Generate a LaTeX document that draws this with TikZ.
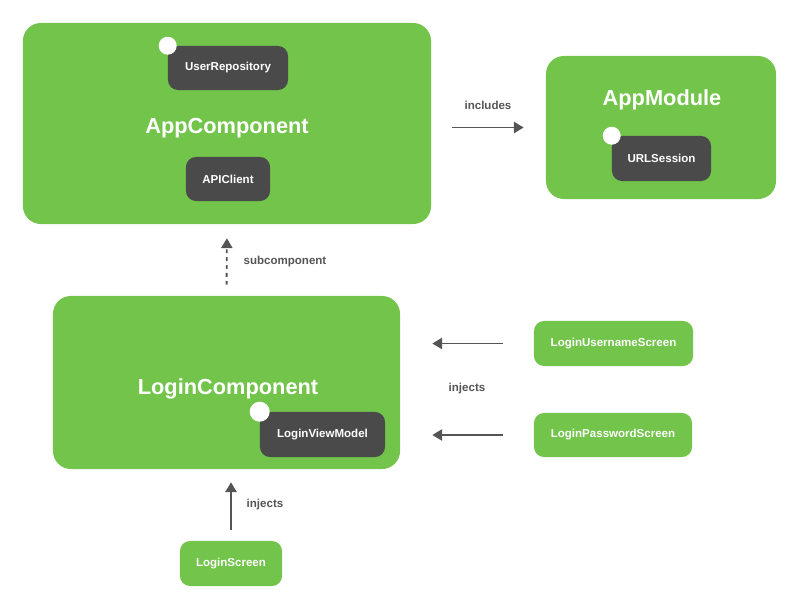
\documentclass[tikz,border=0pt]{standalone}
\usepackage{fontspec}
\setmainfont{Liberation Sans}
\usetikzlibrary{arrows.meta}
\definecolor{compgreen}{RGB}{114,196,74}
\definecolor{depgray}{RGB}{74,74,74}
\definecolor{linegray}{RGB}{85,85,85}

\begin{document}
\begin{tikzpicture}[x=0.025cm,y=-0.025cm,>={Triangle[length=7pt,width=8pt]},
    comp/.style={fill=compgreen, rounded corners=0.45cm, inner sep=0pt},
    dep/.style={fill=depgray, rounded corners=0.25cm, inner sep=0pt, text=white,
      font=\fontsize{8.2}{10}\selectfont\bfseries},
    screen/.style={fill=compgreen, rounded corners=0.25cm, inner sep=0pt, text=white,
      font=\fontsize{8.2}{10}\selectfont\bfseries},
    title/.style={text=white, font=\fontsize{15.5}{18}\selectfont\bfseries},
    lbl/.style={text=linegray, font=\fontsize{8.2}{10}\selectfont\bfseries},
    dot/.style={circle, fill=white, inner sep=0pt, minimum size=0.45cm},
    arr/.style={->, line width=1.4pt, draw=linegray}]
    \useasboundingbox (0,0) rectangle (800,609);

    % AppComponent
    \node[comp, minimum width=10.2cm, minimum height=5.025cm] (appc) at (227,123.5) {};
    \node[title] (appctitle) at (227,128) {AppComponent};
    \node[dep, minimum width=3cm, minimum height=1.1cm] (userrepo) at (228,68) {UserRepository};
    \node[dot] (userrepodot) at (userrepo.north west) {};
    \node[dep, minimum width=2.1cm, minimum height=1.1cm] (apiclient) at (228,179) {APIClient};

    % AppModule
    \node[comp, minimum width=5.75cm, minimum height=3.575cm] (appmod) at (661,127.5) {};
    \node[title] (appmodtitle) at (662,100) {AppModule};
    \node[dep, minimum width=2.475cm, minimum height=1.125cm] (urlsession) at (661.5,158.5) {URLSession};
    \node[dot] (urlsessiondot) at (urlsession.north west) {};

    % LoginComponent
    \node[comp, minimum width=8.675cm, minimum height=4.325cm] (loginc) at (226.5,382.5) {};
    \node[title] (loginctitle) at (228,389) {LoginComponent};
    \node[dep, minimum width=3.125cm, minimum height=1.125cm] (loginvm) at (322.5,434.5) {LoginViewModel};
    \node[dot, minimum size=0.5cm] (loginvmdot) at (loginvm.north west) {};

    % screens
    \node[screen, minimum width=3.975cm, minimum height=1.125cm] (username) at (613.5,343.5) {LoginUsernameScreen};
    \node[screen, minimum width=3.95cm, minimum height=1.1cm] (password) at (613,435) {LoginPasswordScreen};
    \node[screen, minimum width=2.55cm, minimum height=1.125cm] (loginscreen) at (231,563.5) {LoginScreen};

    % connectors
    \draw[arr, shorten <=0.525cm, shorten >=0.55cm] (appc.east |- appmod) -- (appmod.west);
    \node[lbl] (includes) at (488,105) {includes};

    \draw[arr, line width=1.3pt, dash pattern=on 2.8pt off 2.8pt, shorten <=0.275cm, shorten >=0.35cm]
      (loginc.north) -- (appc.south);
    \node[lbl] (subcomp) at (285,262) {subcomponent};

    \draw[arr, shorten <=0.775cm, shorten >=0.8cm] (username.west) -- (loginc.east |- username.west);
    \draw[arr, shorten <=0.775cm, shorten >=0.8cm] (password.west) -- (loginc.east |- password.west);
    \node[lbl] (injectsright) at (467,389) {injects};

    \draw[arr, shorten <=0.275cm, shorten >=0.325cm] (loginscreen.north) -- (loginscreen.north |- loginc.south);
    \node[lbl] (injectsbottom) at (265,505) {injects};
\end{tikzpicture}
\end{document}
